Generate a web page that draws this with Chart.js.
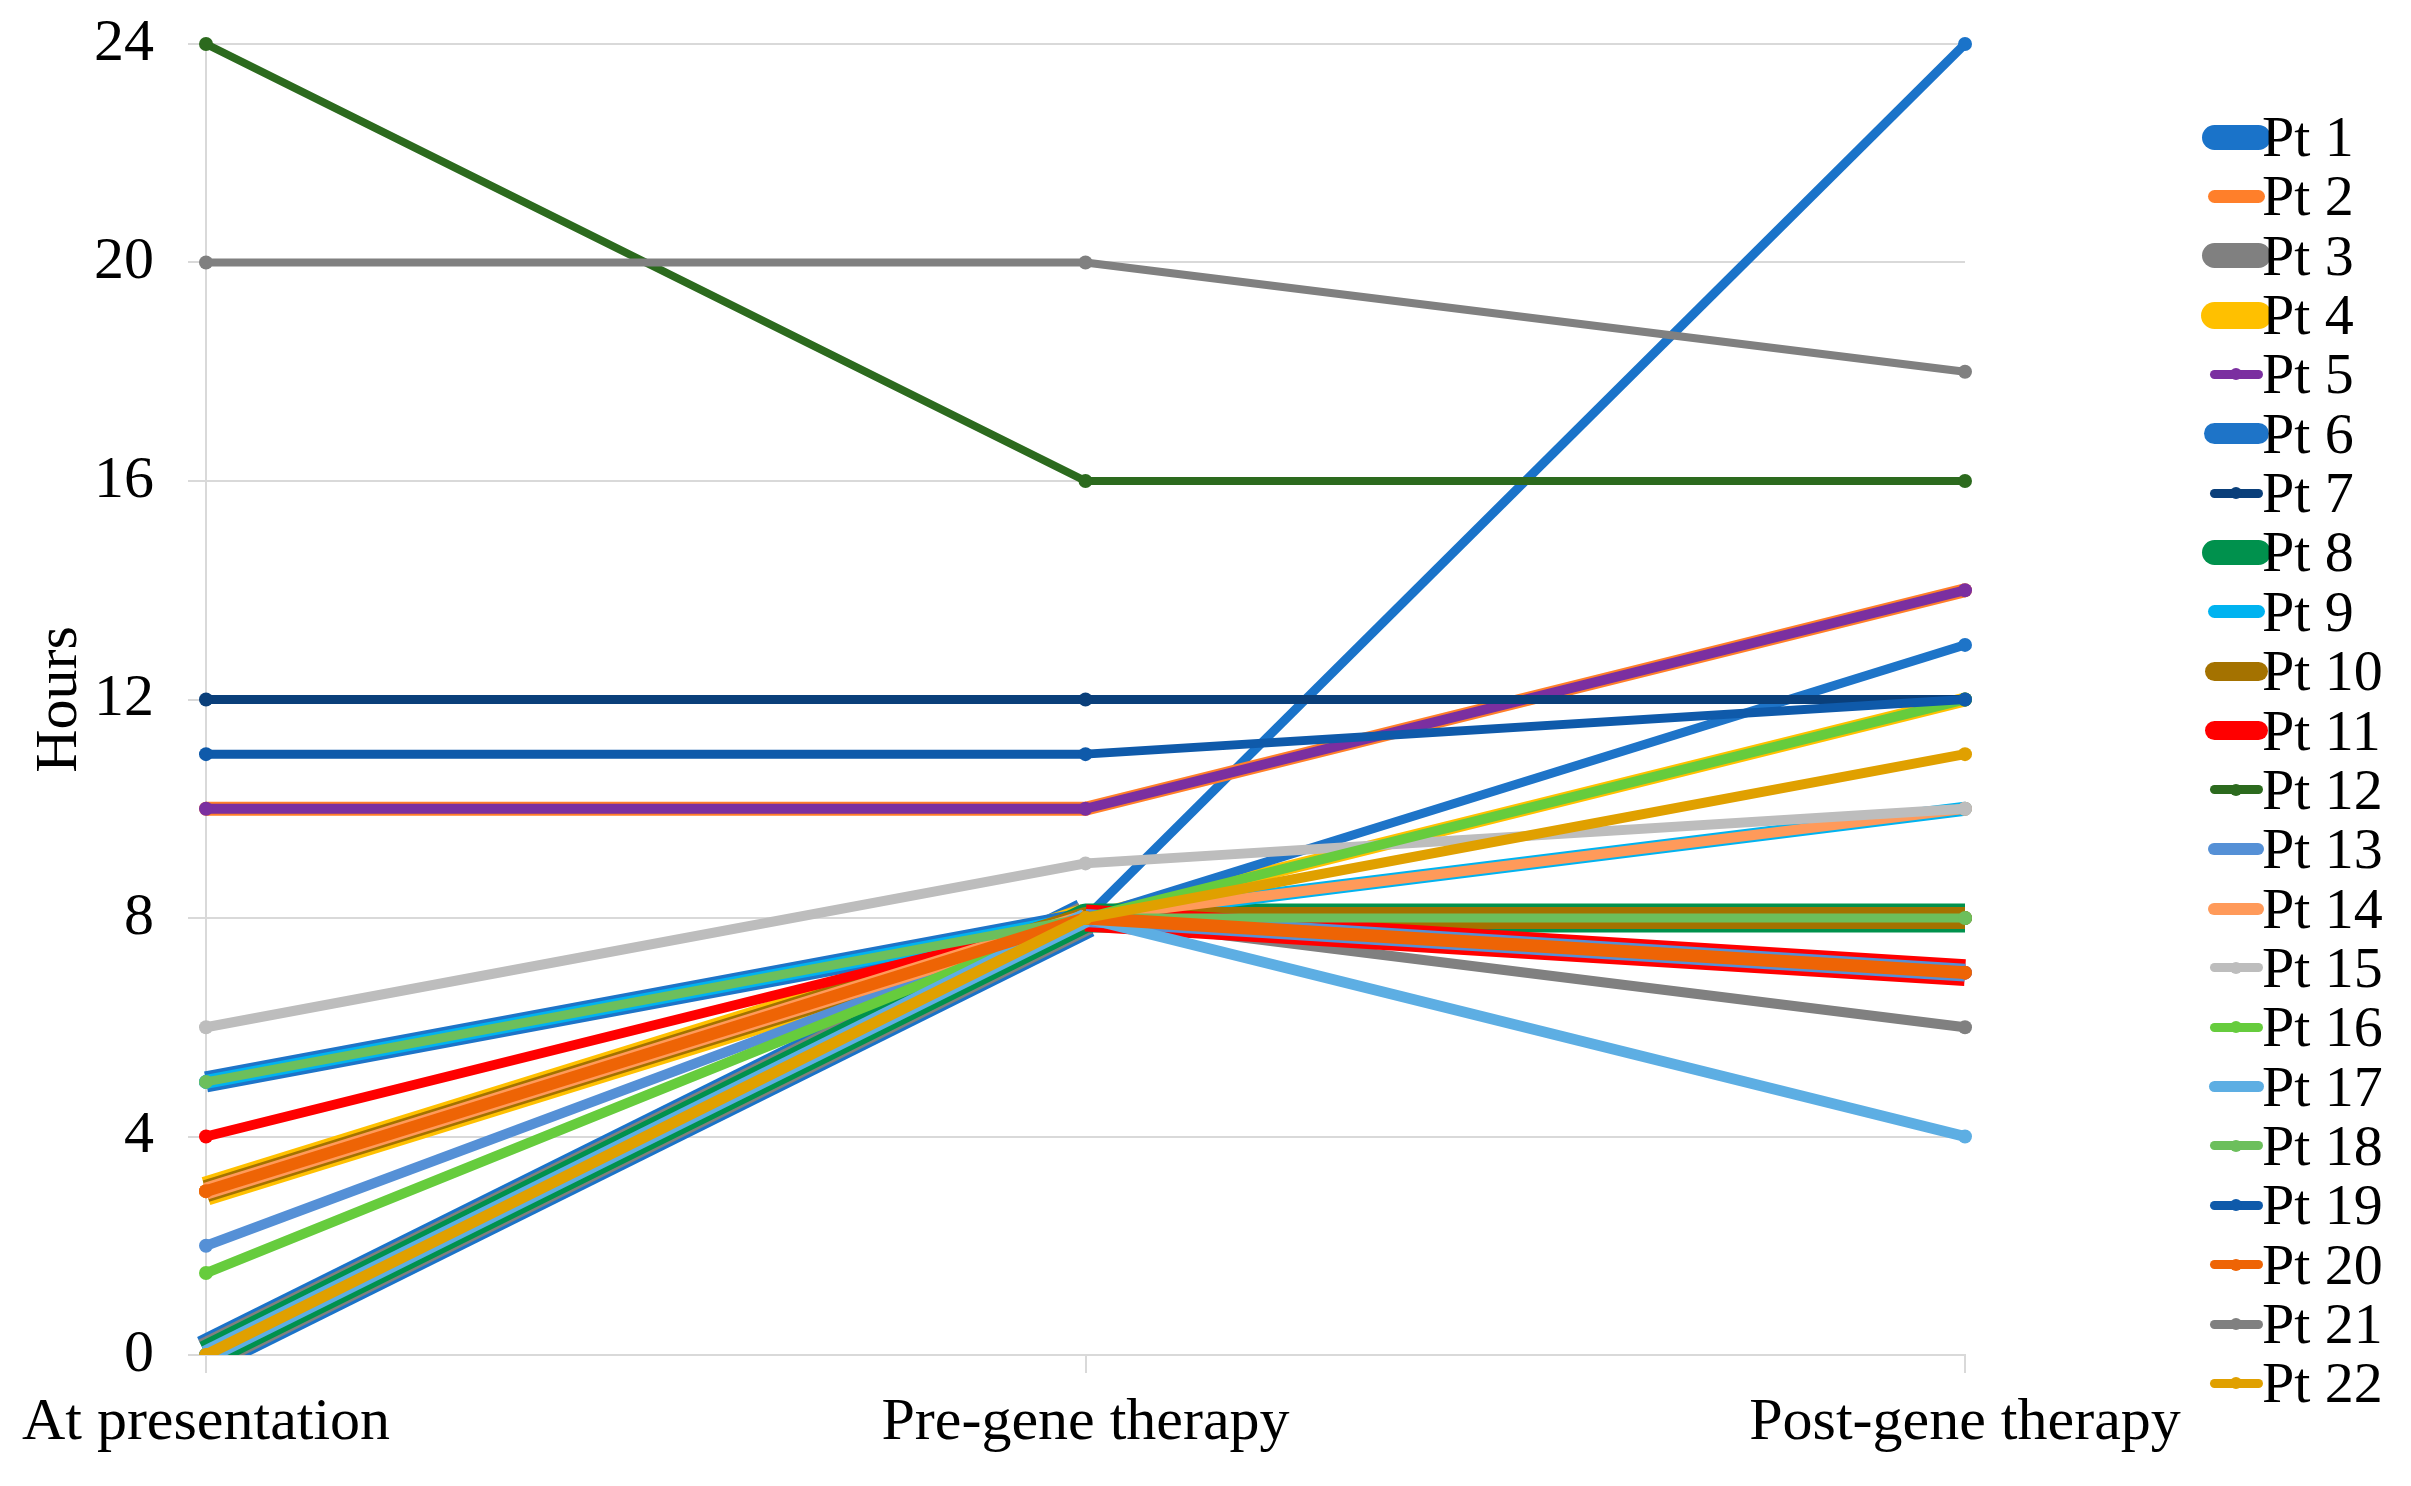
<!DOCTYPE html>
<html>
<head>
<meta charset="utf-8">
<script src="https://cdn.jsdelivr.net/npm/chart.js@4.4.1/dist/chart.umd.min.js"></script>
<style>
html, body { margin: 0; padding: 0; background: #fff; }
#wrap { position: relative; width: 2411px; height: 1486px; overflow: hidden; background: #fff; }
#box { position: absolute; left: 0; top: 0; width: 2411px; height: 1452px; overflow: hidden; }
#legend { position: absolute; left: 0; top: 0; width: 2411px; height: 1486px;
  font-family: 'Liberation Serif', 'Times New Roman', serif; font-size: 58px; color: #000; }
.row { position: absolute; height: 60px; line-height: 60px; white-space: nowrap; }
.sample, .dot { position: absolute; }
</style>
</head>
<body>
<div id="wrap">
  <div id="box"><canvas id="chart" width="2411" height="1452" style="width:2411px;height:1452px"></canvas></div>
  <div id="legend"></div>
</div>
<script>
// categories and values (hours)
const categories = ['At presentation', 'Pre-gene therapy', 'Post-gene therapy'];
const yTicks = [0, 4, 8, 12, 16, 20, 24];

const pt1 = [0, 8, 24];
const pt2 = [10, 10, 14];
const pt3 = [0, 8, 6];
const pt4 = [3, 8, 12];
const pt5 = [10, 10, 14];
const pt6 = [5, 8, 13];
const pt7 = [12, 12, 12];
const pt8 = [0, 8, 8];
const pt9 = [5, 8, 10];
const pt10 = [3, 8, 8];
const pt11 = [4, 8, 7];
const pt12 = [24, 16, 16];
const pt13 = [2, 8, 7];
const pt14 = [3, 8, 10];
const pt15 = [6, 9, 10];
const pt16 = [1.5, 8, 12];
const pt17 = [0, 8, 4];
const pt18 = [5, 8, 8];
const pt19 = [11, 11, 12];
const pt20 = [3, 8, 7];
const pt21 = [20, 20, 18];
const pt22 = [0, 8, 11];

const series = [pt1, pt2, pt3, pt4, pt5, pt6, pt7, pt8, pt9, pt10, pt11,
  pt12, pt13, pt14, pt15, pt16, pt17, pt18, pt19, pt20, pt21, pt22];
const names = series.map((s, i) => 'Pt ' + (i + 1));

// styles
const colors = ['#1A73C9', '#FF7F2A', '#808080', '#FFC000', '#7B2FA0', '#1E74C8',
  '#0A3F7A', '#00914D', '#00B3F0', '#A47200', '#FF0000', '#2C6A1E', '#5590D6',
  '#FF9A5A', '#BDBDBD', '#66CC3D', '#5DAEE3', '#6CBF5C', '#0F5AAA', '#EE6405',
  '#808080', '#E0A000'];
// line width of first segment (presentation -> pre) and second (pre -> post)
const widthFirst = [40, 14, 34, 29, 10, 21, 9, 29, 14, 22, 10, 8, 10, 17, 10, 10, 19, 9, 9, 12, 8, 11];
const widthSecond = [9, 14, 10, 14, 10, 9, 9, 29, 14, 22, 27, 8, 18, 10, 10, 10, 11, 9, 9, 13, 8, 10];
const legendWidth = [25, 13, 25, 27, 9, 21, 9, 25, 13, 19, 19, 9, 12.5, 12, 9, 9, 11, 9, 9, 9, 9, 9];
const legendDot = [false, false, false, false, true, false, true, false, false, false, false, true,
  false, false, true, true, false, true, true, true, true, true];

const gridColor = '#D9D9D9';
Chart.defaults.font.family = "'Liberation Serif', 'Times New Roman', serif";
Chart.defaults.color = '#000';

const datasets = series.map((values, i) => ({
  label: names[i],
  data: values,
  borderColor: colors[i],
  backgroundColor: colors[i],
  borderWidth: Math.max(widthFirst[i], widthSecond[i]),
  borderJoinStyle: 'round',
  pointRadius: 7,
  pointBorderWidth: 0,
  pointBackgroundColor: colors[i],
  order: series.length - i,
  clip: { left: false, top: false, right: false, bottom: 0 },
  segment: {
    borderWidth: ctx => ctx.p0DataIndex === 0 ? widthFirst[i] : widthSecond[i]
  }
}));

new Chart(document.getElementById('chart'), {
  type: 'line',
  data: { labels: categories, datasets: datasets },
  options: {
    responsive: false,
    animation: false,
    events: [],
    layout: { padding: { left: 0, right: 446, top: 44, bottom: 0 } },
    plugins: { legend: { display: false }, tooltip: { enabled: false } },
    scales: {
      x: {
        offset: false,
        grid: { drawOnChartArea: false, drawTicks: true, tickLength: 18, color: gridColor, lineWidth: 2 },
        border: { display: true, color: gridColor, width: 2 },
        ticks: { color: '#000', font: { size: 60 }, padding: 14, maxRotation: 0, autoSkip: false },
        afterFit: s => { s.height = 1452 - 1355; }
      },
      y: {
        min: 0,
        max: 24,
        afterBuildTicks: s => { s.ticks = yTicks.map(v => ({ value: v })); },
        ticks: { color: '#000', font: { size: 60 }, padding: 34 },
        grid: { color: gridColor, lineWidth: 2, tickLength: 18 },
        border: { display: true, color: gridColor, width: 2 },
        title: { display: true, text: 'Hours', color: '#000', font: { size: 60 }, padding: { top: 24, bottom: 0 } },
        afterFit: s => {
          s.width = 206;
          s.paddingTop = 0;
          s.paddingBottom = 0;
        }
      }
    }
  }
});

// legend
const legend = document.getElementById('legend');
names.forEach((name, i) => {
  const cy = 137 + i * 59.35;
  const w = legendWidth[i];
  const line = document.createElement('div');
  line.className = 'sample';
  line.style.left = (2214 - w / 2) + 'px';
  line.style.top = (cy - w / 2) + 'px';
  line.style.width = (44 + w) + 'px';
  line.style.height = w + 'px';
  line.style.borderRadius = (w / 2) + 'px';
  line.style.background = colors[i];
  legend.appendChild(line);
  if (legendDot[i]) {
    const dot = document.createElement('div');
    dot.className = 'dot';
    dot.style.left = (2236 - 6) + 'px';
    dot.style.top = (cy - 6) + 'px';
    dot.style.width = '12px';
    dot.style.height = '12px';
    dot.style.borderRadius = '6px';
    dot.style.background = colors[i];
    legend.appendChild(dot);
  }
  const row = document.createElement('div');
  row.className = 'row';
  row.style.left = '2262px';
  row.style.top = (cy - 30) + 'px';
  row.textContent = name;
  legend.appendChild(row);
});
</script>
</body>
</html>
